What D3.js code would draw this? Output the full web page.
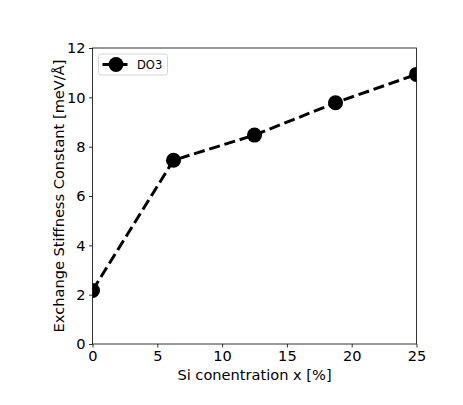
<!DOCTYPE html>
<html>
<head>
<meta charset="utf-8">
<script src="https://cdn.jsdelivr.net/npm/d3@7"></script>
<style>
  body { margin: 0; background: #fff; }
  text { font-family: "DejaVu Sans", sans-serif; fill: #000; }
</style>
</head>
<body>
<div id="chart"></div>
<script>
const siConc = [0, 6.25, 12.5, 18.75, 25];
const stiffness = [2.17, 7.45, 8.47, 9.78, 10.93];
const xTicks = [0, 5, 10, 15, 20, 25];
const yTicks = [0, 2, 4, 6, 8, 10, 12];
const seriesName = "DO3";

const width = 463, height = 405;
const margin = {top: 48, right: 46.5, bottom: 61, left: 92.5};
const innerWidth = width - margin.left - margin.right;
const innerHeight = height - margin.top - margin.bottom;

const svg = d3.select("#chart").append("svg")
    .attr("width", width)
    .attr("height", height);

const g = svg.append("g")
    .attr("transform", "translate(" + margin.left + "," + margin.top + ")");

const x = d3.scaleLinear().domain([0, 25]).range([0, innerWidth]);
const y = d3.scaleLinear().domain([0, 12]).range([innerHeight, 0]);

const xAxis = d3.axisBottom(x).tickValues(xTicks).tickSize(3.5).tickPadding(3.5);
const yAxis = d3.axisLeft(y).tickValues(yTicks).tickSize(3.5).tickPadding(3.5);

const gx = g.append("g")
    .attr("transform", "translate(0," + innerHeight + ")")
    .call(xAxis);
const gy = g.append("g").call(yAxis);

[gx, gy].forEach(a => {
    a.attr("font-size", 14.6).attr("font-family", "DejaVu Sans");
    a.select(".domain").remove();
    a.selectAll("line").attr("stroke", "#000").attr("stroke-width", 0.8);
});

// frame
g.append("rect")
    .attr("width", innerWidth)
    .attr("height", innerHeight)
    .attr("fill", "none")
    .attr("stroke", "#000")
    .attr("stroke-width", 0.8);

const line = d3.line()
    .x((d, i) => x(siConc[i]))
    .y(d => y(d));

svg.append("defs").append("clipPath").attr("id", "clip")
    .append("rect").attr("width", innerWidth).attr("height", innerHeight);

const plot = g.append("g").attr("clip-path", "url(#clip)");

plot.append("path")
    .datum(stiffness)
    .attr("fill", "none")
    .attr("stroke", "#000")
    .attr("stroke-width", 3)
    .attr("stroke-dasharray", "11.1,4.8")
    .attr("d", line);

plot.selectAll(".dot")
    .data(stiffness)
    .enter()
    .append("circle")
    .attr("class", "dot")
    .attr("cx", (d, i) => x(siConc[i]))
    .attr("cy", d => y(d))
    .attr("r", 7.5)
    .attr("fill", "#000");

// axis labels
svg.append("text")
    .attr("x", margin.left + innerWidth / 2)
    .attr("y", 380)
    .attr("text-anchor", "middle")
    .style("font-size", "14.6px")
    .text("Si conentration x [%]");

svg.append("text")
    .attr("transform", "translate(64," + (margin.top + innerHeight / 2) + ") rotate(-90)")
    .attr("text-anchor", "middle")
    .style("font-size", "14.6px")
    .text("Exchange Stiffness Constant [meV/Å]");

// legend
const leg = g.append("g").attr("transform", "translate(6,6)");
leg.append("rect")
    .attr("width", 69)
    .attr("height", 21)
    .attr("rx", 2.5)
    .attr("fill", "#fff")
    .attr("fill-opacity", 0.8)
    .attr("stroke", "#ccc")
    .attr("stroke-width", 0.8);
leg.append("line")
    .attr("x1", 4).attr("x2", 29)
    .attr("y1", 10.5).attr("y2", 10.5)
    .attr("stroke", "#000")
    .attr("stroke-width", 3)
    .attr("stroke-dasharray", "11.1,4.8");
leg.append("circle")
    .attr("cx", 17.5).attr("cy", 10.5).attr("r", 7.5).attr("fill", "#000");
leg.append("text")
    .attr("x", 38.5).attr("y", 14.5)
    .style("font-size", "11.5px")
    .text(seriesName);
</script>
</body>
</html>
